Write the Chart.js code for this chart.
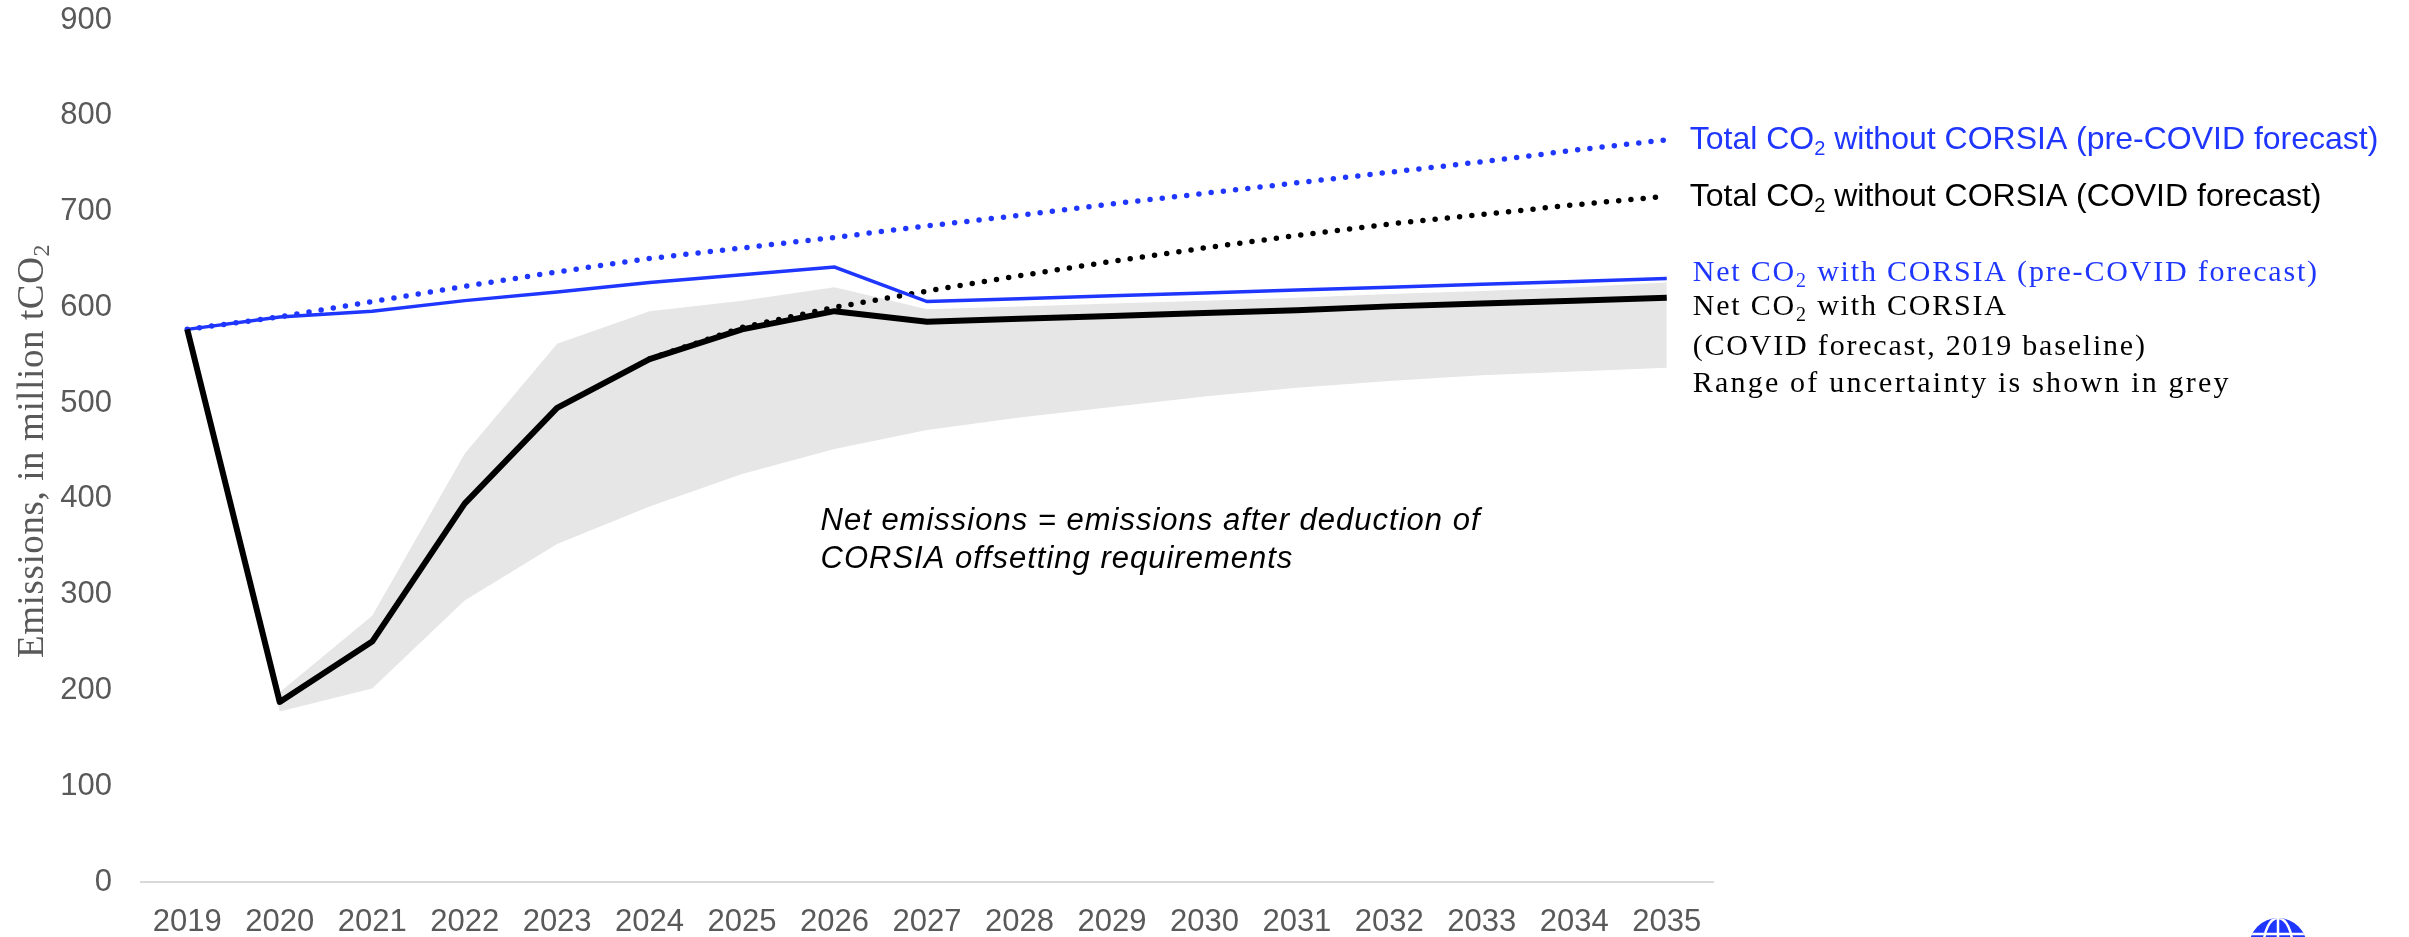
<!DOCTYPE html>
<html>
<head>
<meta charset="utf-8">
<script src="https://cdn.jsdelivr.net/npm/chart.js@4.4.1/dist/chart.umd.min.js"></script>
<style>
  html, body { margin: 0; padding: 0; background: #fff; overflow: hidden; }
</style>
</head>
<body>
<canvas id="chart" width="2409" height="937"></canvas>
<script>
// values (million tCO2)
const years = ['2019', '2020', '2021', '2022', '2023', '2024', '2025', '2026', '2027',
  '2028', '2029', '2030', '2031', '2032', '2033', '2034', '2035'];
const netCovid = [577, 188, 251, 395, 495, 546, 577, 596, 585, 588, 591, 594, 597, 601, 604, 607, 610];
const netPreCovid = [577, 590, 596, 607, 616, 626, 634, 642, 606, 609, 612, 615, 618, 621, 624, 627, 630];
const totalCovid = [null, null, null, null, null, 546, 579, 600, 617, 633, 648, 662, 675, 687, 697, 707, 716];
const totalPreCovid = [577, 590, 606, 622, 637, 651, 662, 673, 685, 696, 708, 719, 730, 741, 752, 764, 775];
const rangeHigh = [577, 198, 278, 447, 562, 596, 607, 621, 598, 601, 604, 607, 610, 614, 617, 621, 626];
const rangeLow = [577, 178, 202, 294, 353, 392, 426, 452, 472, 485, 496, 507, 516, 523, 529, 533, 537];
const yTicks = [0, 100, 200, 300, 400, 500, 600, 700, 800, 900];

const BLUE = '#1f36ff';
const GREY_TXT = '#595959';

// draws a run of text pieces, some of them subscripts
function drawRich(ctx, parts, x, y, font, subFont, color, spacing) {
  ctx.fillStyle = color;
  ctx.textAlign = 'left';
  ctx.textBaseline = 'alphabetic';
  ctx.letterSpacing = (spacing || 0) + 'px';
  let cx = x;
  parts.forEach(p => {
    const sub = p[1] === 'sub';
    ctx.font = sub ? subFont : font;
    ctx.fillText(p[0], cx, sub ? y + 6 : y);
    cx += ctx.measureText(p[0]).width;
  });
  ctx.letterSpacing = '0px';
  return cx - x;
}

function richWidth(ctx, parts, font, subFont, spacing) {
  let w = 0;
  ctx.letterSpacing = (spacing || 0) + 'px';
  parts.forEach(p => {
    ctx.font = p[1] === 'sub' ? subFont : font;
    w += ctx.measureText(p[0]).width;
  });
  ctx.letterSpacing = '0px';
  return w;
}

const labelsPlugin = {
  id: 'labels',
  afterDraw(chart) {
    const ctx = chart.ctx;
    const xs = chart.scales.x;
    const ys = chart.scales.y;
    const last = years.length - 1;
    const xEnd = xs.getPixelForValue(last);
    const sans = '32px "Liberation Sans", Arial, sans-serif';
    const sansSub = '20px "Liberation Sans", Arial, sans-serif';
    const serif = '30px "Liberation Serif", "Times New Roman", serif';
    const serifSub = '20px "Liberation Serif", "Times New Roman", serif';
    ctx.save();

    drawRich(ctx, [['Total CO'], ['2', 'sub'], [' without CORSIA (pre-COVID forecast)']],
      xEnd + 23, ys.getPixelForValue(totalPreCovid[last]) + 9, sans, sansSub, BLUE);
    drawRich(ctx, [['Total CO'], ['2', 'sub'], [' without CORSIA (COVID forecast)']],
      xEnd + 23, ys.getPixelForValue(totalCovid[last]) + 10, sans, sansSub, '#000');

    const yBlue = ys.getPixelForValue(netPreCovid[last]) + 2;
    drawRich(ctx, [['Net CO'], ['2', 'sub'], [' with CORSIA (pre-COVID forecast)']],
      xEnd + 26, yBlue, serif, serifSub, BLUE, 1.8);
    const yBlack = ys.getPixelForValue(netCovid[last]) + 17;
    drawRich(ctx, [['Net CO'], ['2', 'sub'], [' with CORSIA']], xEnd + 26, yBlack, serif, serifSub, '#000', 1.8);
    drawRich(ctx, [['(COVID forecast, 2019 baseline)']], xEnd + 26, yBlack + 40, serif, serifSub, '#000', 1.8);
    drawRich(ctx, [['Range of uncertainty is shown in grey']], xEnd + 26, yBlack + 77, serif, serifSub, '#000', 2.2);

    // note in the middle of the plot
    ctx.font = 'italic 31px "Liberation Sans", Arial, sans-serif';
    ctx.letterSpacing = '1px';
    ctx.fillStyle = '#000';
    const nx = xs.getPixelForValue(7) - 14;
    const ny = ys.getPixelForValue(368);
    ctx.fillText('Net emissions = emissions after deduction of', nx, ny);
    ctx.fillText('CORSIA offsetting requirements', nx, ny + 38);
    ctx.letterSpacing = '0px';

    // rotated y axis title
    const tFont = '37px "Liberation Serif", "Times New Roman", serif';
    const tSub = '24px "Liberation Serif", "Times New Roman", serif';
    const tParts = [['Emissions, in million tCO'], ['2', 'sub']];
    const tw = richWidth(ctx, tParts, tFont, tSub, 0.6);
    ctx.translate(43, (chart.chartArea.top + chart.chartArea.bottom) / 2);
    ctx.rotate(-Math.PI / 2);
    drawRich(ctx, tParts, -tw / 2, 0, tFont, tSub, GREY_TXT, 0.6);
    ctx.restore();

    // globe logo, cut by the bottom edge
    const gx = 2278, gy = 947, r = 29;
    ctx.save();
    ctx.beginPath();
    ctx.arc(gx, gy, r, 0, Math.PI * 2);
    ctx.fillStyle = BLUE;
    ctx.fill();
    ctx.clip();
    ctx.strokeStyle = '#fff';
    ctx.lineWidth = 2.5;
    ctx.beginPath();
    ctx.moveTo(gx, gy - r); ctx.lineTo(gx, gy + r);
    ctx.moveTo(gx - r, gy - r * 0.45); ctx.lineTo(gx + r, gy - r * 0.45);
    ctx.moveTo(gx - r, gy); ctx.lineTo(gx + r, gy);
    ctx.stroke();
    ctx.beginPath();
    ctx.ellipse(gx, gy, r * 0.5, r, 0, 0, Math.PI * 2);
    ctx.stroke();
    ctx.restore();
  }
};

const dotted = { borderDash: [0, 12.3], borderCapStyle: 'round', borderWidth: 5.5 };

new Chart(document.getElementById('chart').getContext('2d'), {
  type: 'line',
  data: {
    labels: years,
    datasets: [
      { label: 'Net CO2 with CORSIA (COVID forecast)', data: netCovid,
        borderColor: '#000', borderWidth: 6, borderJoinStyle: 'round', fill: false },
      { label: 'Net CO2 with CORSIA (pre-COVID forecast)', data: netPreCovid,
        borderColor: BLUE, borderWidth: 3.5, fill: false },
      Object.assign({ label: 'Total CO2 without CORSIA (COVID forecast)', data: totalCovid,
        borderColor: '#000', fill: false }, dotted),
      Object.assign({ label: 'Total CO2 without CORSIA (pre-COVID forecast)', data: totalPreCovid,
        borderColor: BLUE, fill: false }, dotted),
      { label: 'Range high', data: rangeHigh, borderWidth: 0, borderColor: 'rgba(0,0,0,0)',
        backgroundColor: '#e6e6e6', fill: 5 },
      { label: 'Range low', data: rangeLow, borderWidth: 0, borderColor: 'rgba(0,0,0,0)',
        fill: false }
    ]
  },
  options: {
    responsive: false,
    devicePixelRatio: 1,
    animation: false,
    layout: { padding: { top: 20, right: 696, left: 0, bottom: 0 } },
    elements: { point: { radius: 0 }, line: { tension: 0 } },
    plugins: { legend: { display: false }, tooltip: { enabled: false } },
    scales: {
      x: {
        type: 'category',
        offset: true,
        afterFit(scale) { scale.height = 55; scale.paddingLeft = 0; scale.paddingRight = 0; },
        grid: { display: false, drawTicks: false },
        border: { display: true, color: '#d9d9d9', width: 2 },
        ticks: { color: GREY_TXT, padding: 22, maxRotation: 0, autoSkip: false,
          font: { family: '"Liberation Sans", Arial, sans-serif', size: 31 } }
      },
      y: {
        min: 0,
        max: 900,
        afterBuildTicks(scale) { scale.ticks = yTicks.map(v => ({ value: v })); },
        afterFit(scale) { scale.width = 141; scale.paddingTop = 0; scale.paddingBottom = 0; },
        grid: { display: false, drawTicks: false },
        border: { display: false },
        ticks: { color: GREY_TXT, padding: 29,
          font: { family: '"Liberation Sans", Arial, sans-serif', size: 31 } }
      }
    }
  },
  plugins: [labelsPlugin]
});
</script>
</body>
</html>
